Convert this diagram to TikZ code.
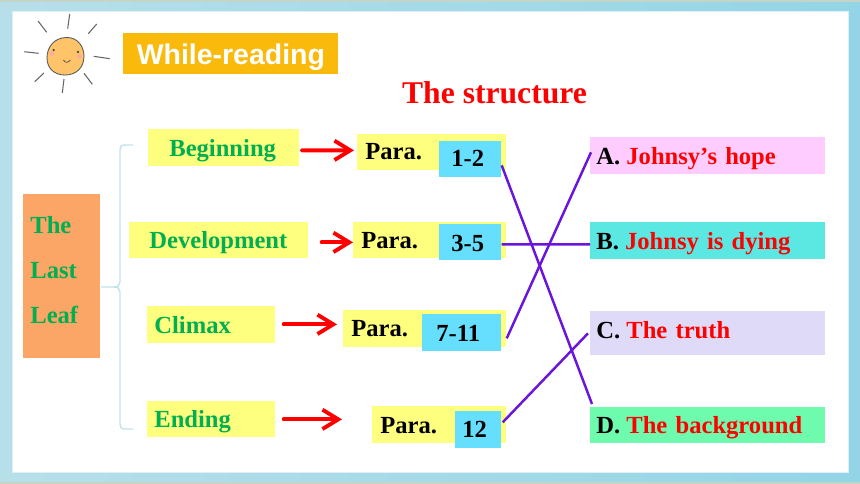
\documentclass[tikz,border=0pt]{standalone}
\usepackage{fontspec}
\setmainfont{Liberation Serif}
\newfontfamily\arialfont{Liberation Sans}
\usetikzlibrary{arrows.meta,calc}
\definecolor{frameleft}{HTML}{B7DFEA}
\definecolor{frameright}{HTML}{93D5E6}
\definecolor{frameedge}{HTML}{C4D5C8}
\definecolor{panelrim}{HTML}{DDF0F4}
\definecolor{lblyellow}{HTML}{FFFF7F}
\definecolor{lblgreen}{HTML}{00B050}
\definecolor{parablue}{HTML}{66DFFF}
\definecolor{linepurple}{HTML}{6A14DC}
\definecolor{sunface}{HTML}{FFC469}
\definecolor{headamber}{HTML}{F9BA0C}
\definecolor{leaforange}{HTML}{FBA566}
\definecolor{anspink}{HTML}{FFCCFF}
\definecolor{anscyan}{HTML}{5BE8E2}
\definecolor{anslilac}{HTML}{DFDAF8}
\definecolor{ansgreen}{HTML}{6FFBAD}
\definecolor{bracecol}{HTML}{BFE3EA}
\def\px{0.02cm}
\newcommand{\ansgap}{\hspace{0.25em}}

\begin{document}
\begin{tikzpicture}[
		x=0.02cm, y=-0.02cm,
		txtbox/.style n args={3}{anchor=north west, text width=(#1-2*#3)*\px, minimum height=#2*\px, inner xsep=#3*\px, inner ysep=0pt, align=left, text depth=0pt, font=\fontsize{14}{16}\selectfont\bfseries},
		stagebox/.style={fill=lblyellow, text=lblgreen},
		parabox/.style={fill=lblyellow, text=black},
		numbox/.style={fill=parablue, text=black},
		redarrow/.style={-{Straight Barb[length=9pt,width=11pt]}, draw=red, line width=2.2pt, line cap=round},
		purpleline/.style={draw=linepurple, line width=1.4pt},
		sunray/.style={draw=black!60, line width=0.6pt},
		bracket/.style={draw=bracecol, line width=0.8pt}
	]

	\shade[left color=frameleft, right color=frameright] (0,0) rectangle (860,484);
	\fill[frameedge] (0,0) rectangle (860,2);
	\fill[frameedge] (0,482) rectangle (860,484);
	\fill[white, draw=panelrim, line width=0.5pt] (12,11) rectangle (848,472);
	\useasboundingbox (0,0) rectangle (860,484);

	% sun
	\foreach \xa/\ya/\xb/\yb in {69.7/14/67.7/28.7, 38/21/46.7/32.3, 96.7/24/88.3/33.7, 24.3/51.7/38.7/53.3, 93.7/56.3/109.7/58.7, 44/73/34.7/81.7, 84/73.3/92.3/84.3, 64/79/62.3/93}
		\draw[sunray] (\xa,\ya) -- (\xb,\yb);
	\draw[fill=sunface, draw=black!65, line width=0.5pt] (66,37.5) .. controls (78,37) and (84,47) .. (84,56) .. controls (84,68) and (76,75) .. (65,75) .. controls (54,75) and (47,68) .. (47,58) .. controls (47,47) and (54,38) .. (66,37.5);
	\fill[red!35] (52,53.5) circle (2.2);
	\fill[red!35] (79.5,56.5) circle (2.2);
	\fill[black!70] (53.7,50) circle (1.3);
	\fill[black!70] (78,52) circle (1.3);
	\draw[black!70, line width=0.4pt] (63.5,60) .. controls (65,63) and (68,63) .. (70.5,60);

	\node[anchor=north west, fill=headamber, minimum width=215*\px, minimum height=41*\px, inner sep=0pt, text=white, text depth=0pt, font=\arialfont\fontsize{16.2}{18}\selectfont\bfseries] (while) at (123,33) {While-reading};
	\node[text=red, font=\fontsize{18}{20}\selectfont\bfseries] (title) at (494.5,93) {The structure};

	\node[txtbox={77}{164}{7}, fill=leaforange, text=lblgreen, text depth=] (leaf) at (23,194) {\baselineskip=25.5pt The\\Last\\Leaf\par\vspace{7.4pt}};

	\node[txtbox={151}{37}{21}, stagebox] (beg) at (148,129) {Beginning};
	\node[txtbox={179}{36}{20}, stagebox] (dev) at (129,222) {Development};
	\node[txtbox={128}{37}{7}, stagebox] (cli) at (147,306) {Climax};
	\node[txtbox={128}{36}{7}, stagebox] (end) at (147,401) {Ending};

	\node[txtbox={149}{36}{8}, parabox, text depth=1.1pt] (p1) at (357,134) {Para.};
	\node[txtbox={153}{36}{8}, parabox] (p2) at (353,222) {Para.};
	\node[txtbox={163}{37}{8}, parabox] (p3) at (343,310) {Para.};
	\node[txtbox={134}{37}{8}, parabox, text height=10.4pt] (p4) at (372,406) {Para.};

	\node[txtbox={62}{36}{12}, numbox, text depth=1.1pt] (n1) at (439,141) {1-2};
	\node[txtbox={62}{36}{12}, numbox, text height=10.4pt] (n2) at (439,224) {3-5};
	\node[txtbox={79}{37}{14}, numbox, text height=10.4pt] (n3) at (422,314) {7-11};
	\node[txtbox={46}{37}{7}, numbox] (n4) at (455,411) {12};

	\node[txtbox={235}{37}{6}, fill=anspink] (ansa) at (590,137) {A.\ansgap\textcolor{red}{Johnsy’s hope}};
	\node[txtbox={235}{37}{6}, fill=anscyan] (ansb) at (590,222) {B.\ansgap\textcolor{red}{Johnsy is dying}};
	\node[txtbox={235}{44}{6}, fill=anslilac, text depth=3.4pt] (ansc) at (590,311) {C.\ansgap\textcolor{red}{The truth}};
	\node[txtbox={235}{36}{6}, fill=ansgreen] (ansd) at (590,407) {D.\ansgap\textcolor{red}{The background}};

	\draw[redarrow] ($(beg.east)+(2,2.5)$) -- ($(p1.west)+(-3,-2)$);
	\draw[redarrow] ($(dev.east)+(13,2)$) -- ($(p2.west)+(0,2)$);
	\draw[redarrow] ($(cli.east)+(8,-0.5)$) -- ($(p3.west)+(-6,-4.5)$);
	\draw[redarrow] ($(end.east)+(8,0)$) -- ($(p4.west)+(-30,-5.5)$);

	\draw[purpleline] ($(n1.east)+(0,6)$) -- ($(ansd.north west)+(2,-3)$);
	\draw[purpleline] ($(n2.east)+(0,2)$) -- ($(ansb.west)+(0,3.5)$);
	\draw[purpleline] ($(n3.east)+(5,5.5)$) -- ($(ansa.west)+(1,-3.5)$);
	\draw[purpleline] ($(n4.east)+(1,-7.5)$) -- ($(ansc.west)+(-2,0)$);

	\coordinate (bt) at (133,145);
	\coordinate (bb) at (133,429);
	\coordinate (bm) at (101,287);
	\draw[bracket] (bt) -- (125,145) .. controls (121,145) and (120,147) .. (120,150) -- (120,282) .. controls (120,285) and (118,287) .. (114,287) -- (bm);
	\draw[bracket] (bb) -- (125,429) .. controls (121,429) and (120,427) .. (120,424) -- (120,292) .. controls (120,289) and (118,287) .. (114,287);

\end{tikzpicture}
\end{document}
